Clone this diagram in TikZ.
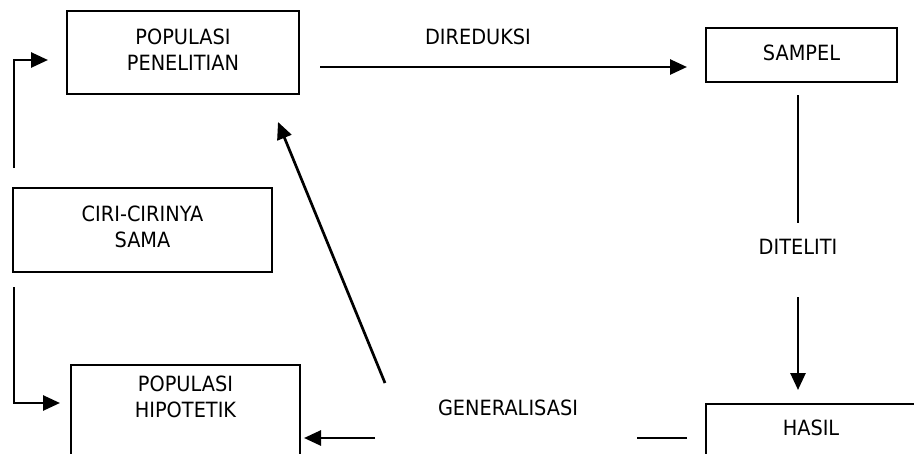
\documentclass[tikz,border=0pt]{standalone}
\usepackage{fontspec}
\setmainfont{DejaVu Sans}[FakeStretch=0.92]
\usetikzlibrary{arrows.meta}
\begin{document}
\begin{tikzpicture}[x=1pt,y=-1pt,
  box/.style={draw,line width=2pt,inner sep=0pt},
  lbl/.style={align=center,inner sep=0pt,font=\fontsize{21}{25.5}\selectfont},
  con/.style={line width=2.7pt},
  arr/.style={line width=2.7pt,-{Triangle[length=17pt,width=15pt]}}]
\useasboundingbox (0,0) rectangle (914,453);
\clip (0,0) rectangle (914,453);
% boxes
\node[box,minimum width=232pt,minimum height=83pt] (pp) at (183,52.5) {};
\node[lbl] (ppt) at (183,49.5) {POPULASI\\PENELITIAN};
\node[box,minimum width=191pt,minimum height=54pt] (sampel) at (801.5,55) {};
\node[lbl] (sampelt) at (801.5,53) {SAMPEL};
\node[box,minimum width=259pt,minimum height=84pt] (ciri) at (142.5,230) {};
\node[lbl] (cirit) at (142.5,227) {CIRI-CIRINYA\\SAMA};
\node[box,minimum width=229pt,minimum height=110pt] (hip) at (185.5,420) {};
\node[lbl] (hipt) at (185.5,397) {POPULASI\\HIPOTETIK};
\node[box,minimum width=240pt,minimum height=110pt] (hasil) at (826,459) {};
\node[lbl] (hasilt) at (811,428) {HASIL};
% labels
\node[lbl] (dir) at (478,37) {DIREDUKSI};
\node[lbl] (dit) at (798,247) {DITELITI};
\node[lbl] (gen) at (508,408) {GENERALISASI};
% coordinates
\coordinate (a1) at (320,67);
\coordinate (a2) at (687,67);
\coordinate (b1) at (798,95);
\coordinate (b2) at (798,223);
\coordinate (b3) at (798,297);
\coordinate (b4) at (798,390);
\coordinate (c1) at (687,438);
\coordinate (c2) at (637,438);
\coordinate (c3) at (375,438);
\coordinate (c4) at (304,438);
\coordinate (d1) at (385,383);
\coordinate (d2) at (278,122);
\coordinate (e1) at (14,168);
\coordinate (e2) at (14,60);
\coordinate (e3) at (48,60);
\coordinate (f1) at (14,287);
\coordinate (f2) at (14,403);
\coordinate (f3) at (60,403);
% connectors
\draw[arr] (a1) -- (a2);
\draw[con] (b1) -- (b2);
\draw[arr] (b3) -- (b4);
\draw[con] (c1) -- (c2);
\draw[arr] (c3) -- (c4);
\draw[arr] (d1) -- (d2);
\draw[arr] (e1) -- (e2) -- (e3);
\draw[arr] (f1) -- (f2) -- (f3);
\end{tikzpicture}
\end{document}
